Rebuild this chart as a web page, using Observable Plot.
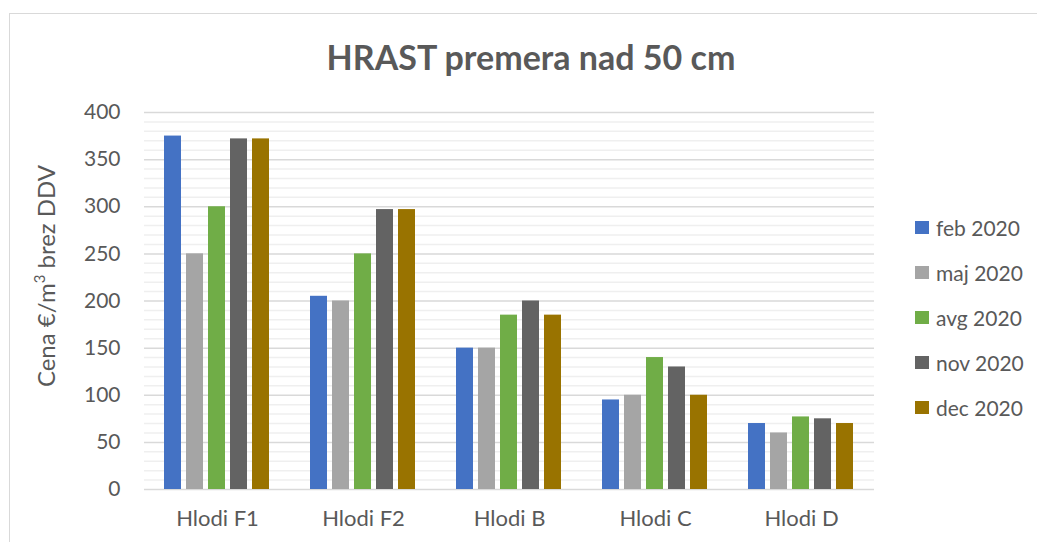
<!DOCTYPE html>
<html>
<head>
<meta charset="utf-8">
<script src="https://cdn.jsdelivr.net/npm/d3@7"></script>
<script src="https://cdn.jsdelivr.net/npm/@observablehq/plot@0.6"></script>
<style>
  html, body { margin: 0; padding: 0; background: #fff; }
  body { position: relative; width: 1037px; height: 542px; overflow: hidden; font-family: Lato, "Noto Sans", sans-serif; color: #595959; }
  #frame { position: absolute; left: 9px; top: 13px; width: 1200px; height: 800px; border: 1px solid #d9d9d9; box-sizing: border-box; }
  #title { position: absolute; left: 0; width: 1062px; top: 37px; text-align: center; font-weight: bold; font-size: 34px; line-height: 40px; color: #595959; }
  #chart { position: absolute; left: 0; top: 95px; }
  #ylabel { position: absolute; left: 45px; top: 276px; transform: translate(-50%, -50%) rotate(-90deg); white-space: nowrap; font-size: 24px; color: #595959; }
  #legend { position: absolute; left: 915px; top: 205px; }
  .item { display: flex; align-items: center; height: 45px; font-size: 21px; color: #595959; }
  .sw { width: 14px; height: 13px; margin-right: 7px; flex: none; }
</style>
</head>
<body>
<div id="frame"></div>
<div id="title">HRAST premera nad 50 cm</div>
<div id="ylabel">Cena €/m<sup style="font-size:15px;vertical-align:10px;line-height:0">3</sup> brez DDV</div>
<div id="chart"></div>
<div id="legend"></div>
<script>
const categories = ["Hlodi F1", "Hlodi F2", "Hlodi B", "Hlodi C", "Hlodi D"];
const series = ["feb 2020", "maj 2020", "avg 2020", "nov 2020", "dec 2020"];
const feb2020 = [375, 205, 150, 95, 70];
const maj2020 = [250, 200, 150, 100, 60];
const avg2020 = [300, 250, 185, 140, 77];
const nov2020 = [372, 297, 200, 130, 75];
const dec2020 = [372, 297, 185, 100, 70];
const colors = ["#4472C4", "#A5A5A5", "#70AD47", "#636363", "#997300"];
const yTicks = [0, 50, 100, 150, 200, 250, 300, 350, 400];

const seriesValues = [feb2020, maj2020, avg2020, nov2020, dec2020];
const data = [];
categories.forEach((c, i) => {
  series.forEach((s, j) => data.push({category: c, series: s, value: seriesValues[j][i]}));
});
const minor = d3.range(0, 401, 10).filter(v => v % 50 !== 0);

const chart = Plot.plot({
  width: 1037,
  height: 447,
  marginTop: 17,
  marginBottom: 53,
  marginLeft: 143,
  marginRight: 162,
  style: {fontFamily: "Lato, 'Noto Sans', sans-serif", fontSize: "21px", color: "#595959", background: "transparent"},
  fx: {domain: categories, padding: 0, label: null},
  x: {domain: series, paddingInner: 0.22, paddingOuter: 0.88, axis: null},
  y: {domain: [0, 400], label: null, axis: null},
  color: {domain: series, range: colors},
  marks: [
    Plot.ruleY(minor, {stroke: "#efefef", strokeWidth: 1.5}),
    Plot.ruleY(yTicks, {stroke: "#d9d9d9", strokeWidth: 1.5}),
    Plot.barY(data, {fx: "category", x: "series", y: "value", fill: "series"}),
    Plot.axisY(yTicks, {tickSize: 0, tickPadding: 24, fontSize: 21, label: null}),
    Plot.axisFx({anchor: "bottom", tickSize: 0, tickPadding: 21, fontSize: 22, label: null})
  ]
});
document.getElementById("chart").appendChild(chart);

const legend = document.getElementById("legend");
series.forEach((s, j) => {
  const item = document.createElement("div");
  item.className = "item";
  const sw = document.createElement("span");
  sw.className = "sw";
  sw.style.background = colors[j];
  item.appendChild(sw);
  item.appendChild(document.createTextNode(s));
  legend.appendChild(item);
});
</script>
</body>
</html>
